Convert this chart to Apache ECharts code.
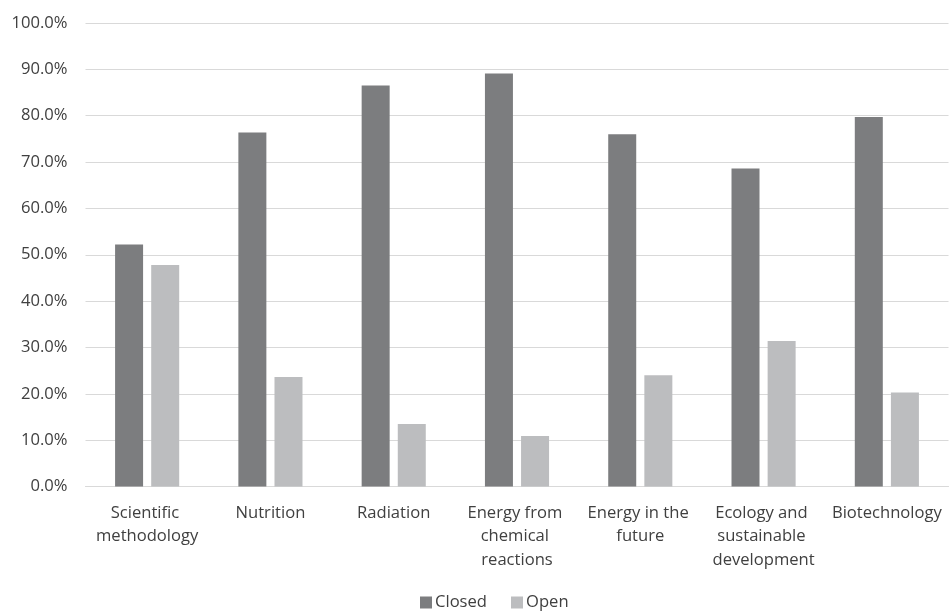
<!DOCTYPE html>
<html>
<head>
<meta charset="utf-8">
<script src="https://cdn.jsdelivr.net/npm/echarts@6/dist/echarts.min.js"></script>
<style>
  html, body { margin: 0; padding: 0; background: #ffffff; }
  #chart { width: 950px; height: 611px; }
</style>
</head>
<body>
<div id="chart"></div>
<script>
// Topics and share of closed vs. open answers (percent)
const topics = [
  'Scientific methodology',
  'Nutrition',
  'Radiation',
  'Energy from chemical reactions',
  'Energy in the future',
  'Ecology and sustainable development',
  'Biotechnology'
];
const closedShare = [52.2, 76.4, 86.5, 89.1, 76.0, 68.6, 79.7];
const openShare = [47.8, 23.6, 13.5, 10.9, 24.0, 31.4, 20.3];
const yTicks = [0, 10, 20, 30, 40, 50, 60, 70, 80, 90, 100];

const font = '"Open Sans", Lato, sans-serif';
const textColor = '#404040';
const fontSize = 16.6;

const chart = echarts.init(document.getElementById('chart'), null, { renderer: 'canvas' });
chart.setOption({
  animation: false,
  backgroundColor: '#ffffff',
  textStyle: { fontFamily: font },
  legend: {
    top: 589,
    left: 415,
    itemWidth: 12,
    itemHeight: 12,
    itemGap: 24,
    icon: 'rect',
    textStyle: { fontSize: fontSize, color: textColor, fontFamily: font, padding: [0, 0, 0, -2] },
    data: ['Closed', 'Open']
  },
  grid: {
    left: 85.5,
    top: 23,
    width: 868,
    height: 463.5,
    containLabel: false
  },
  xAxis: {
    type: 'category',
    data: topics,
    axisLine: { show: true, lineStyle: { color: '#d9d9d9', width: 1 } },
    axisTick: { show: false },
    axisLabel: {
      interval: 0,
      margin: 15,
      fontSize: fontSize,
      lineHeight: 23.5,
      color: textColor,
      fontFamily: font,
      width: 121,
      overflow: 'break',
      align: 'center'
    }
  },
  yAxis: {
    type: 'value',
    min: yTicks[0],
    max: yTicks[yTicks.length - 1],
    interval: 10,
    axisLine: { show: false },
    axisTick: { show: false },
    splitLine: { lineStyle: { color: '#d9d9d9', width: 1 } },
    axisLabel: {
      fontSize: fontSize,
      color: textColor,
      fontFamily: font,
      margin: 18,
      formatter: v => v.toFixed(1) + '%'
    }
  },
  series: [
    {
      name: 'Closed',
      type: 'bar',
      data: closedShare,
      barWidth: 28,
      barGap: '29%',
      itemStyle: { color: '#7c7d7f' }
    },
    {
      name: 'Open',
      type: 'bar',
      data: openShare,
      barWidth: 28,
      itemStyle: { color: '#bcbdbf' }
    }
  ]
});
</script>
</body>
</html>
